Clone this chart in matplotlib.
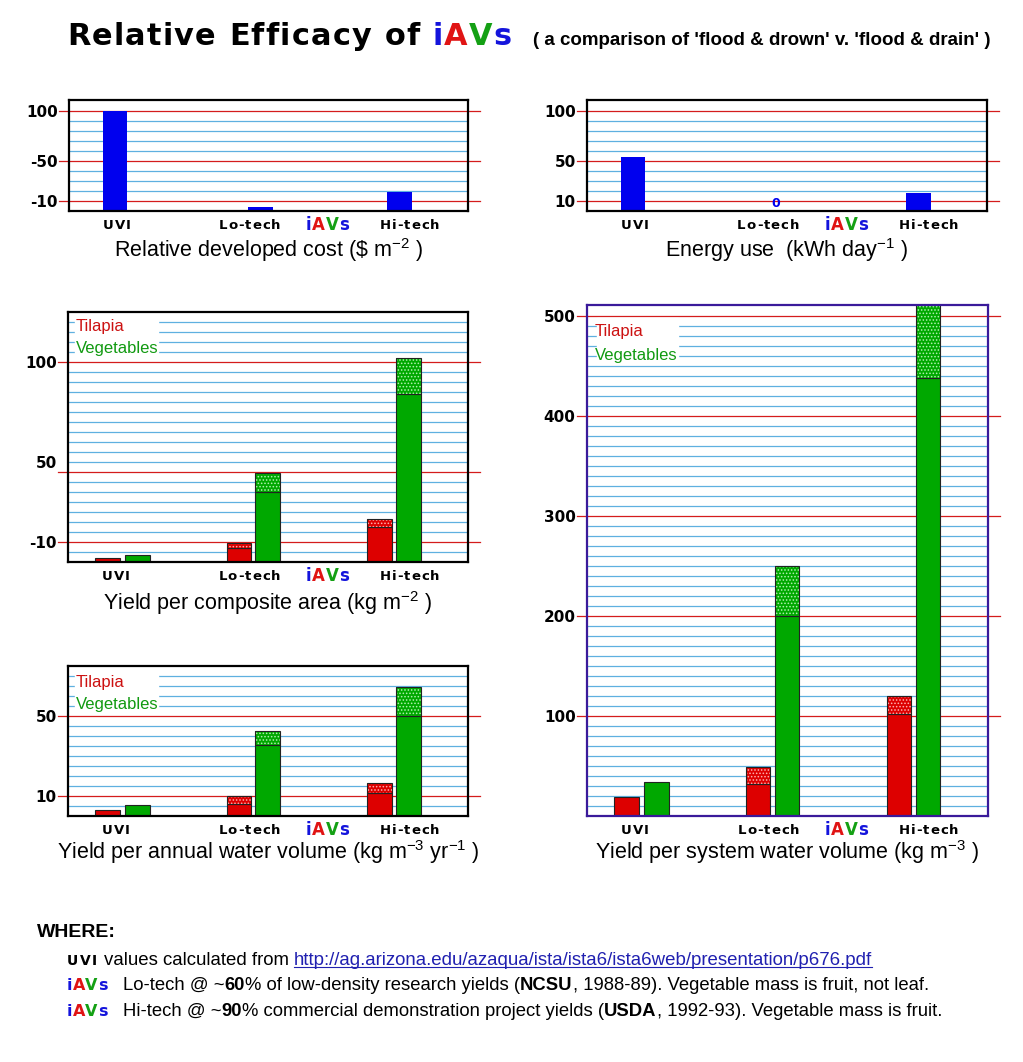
import numpy as np
import matplotlib
matplotlib.use('Agg')
import matplotlib.pyplot as plt
from matplotlib.font_manager import FontProperties
from matplotlib.lines import Line2D
from matplotlib.patches import Rectangle

plt.rcParams['mathtext.fontset'] = 'custom'
plt.rcParams['mathtext.rm'] = 'Liberation Sans'
plt.rcParams['mathtext.default'] = 'regular'
plt.rcParams['hatch.linewidth'] = 0.7

#%% Datos
grupos = ['UVI', 'Lo-tech', 'Hi-tech']
costo = [100, 4, 19]                 # $ m-2
energia = [54, 0, 18]                # kWh day-1

# base = 'flood & drown' (solido), tot = 'flood & drain' (punteado arriba)
area_til_base = [2, 7, 17.5]
area_til_tot = [2, 9.5, 21.5]
area_veg_base = [3.3, 35, 84]
area_veg_tot = [3.3, 44.5, 102]

anual_til_base = [3.2, 6.2, 11.7]
anual_til_tot = [3.2, 9.8, 16.7]
anual_veg_base = [5.3, 35.3, 50]
anual_veg_tot = [5.3, 42.3, 64.7]

sist_til_base = [18.7, 31.7, 102]
sist_til_tot = [18.7, 49.3, 120]
sist_veg_base = [33.7, 200, 438]
sist_veg_tot = [33.7, 250, 515]

#%% Estilo
W, H = 1023, 1062
AZ, RO, VE = '#1414dc', '#e01414', '#14a014'
BAR_R, BAR_V, BAR_A = '#dd0000', '#00a800', '#0000ee'
GRID_A, GRID_R = '#5fb0e0', '#d41c1c'

x_uno = [11.6, 48.0, 82.8]
x_til = [9.9, 42.7, 77.9]
x_veg = [17.4, 49.9, 85.1]
x_cat = [12.0, 45.3, 64.8, 85.3]
ancho_barra = 6.1

fig = plt.figure(figsize=(W / 100, H / 100), dpi=100)


def ancho(s, fp):
    r = fig.canvas.get_renderer()
    w1 = r.get_text_width_height_descent('|' + s + '|', fp, ismath=False)[0]
    w0 = r.get_text_width_height_descent('||', fp, ismath=False)[0]
    return w1 - w0


def fila(x, y, piezas, ha='left', fin=None):
    # piezas: (texto, color, size, weight, family, track, underline)
    def layout(esc):
        items = []
        for s, c, size, weight, fam, track, und in piezas:
            fp = FontProperties(family=fam, size=size * esc, weight=weight)
            trozos = list(s) if track else [s]
            for ch in trozos:
                items.append([ch, c, fp, ancho(ch, fp), track * esc, und])
        tot = sum(it[3] + it[4] for it in items) - items[-1][4]
        return items, tot
    items, tot = layout(1.0)
    if fin is not None:
        items, tot = layout((fin - x) / tot)
    x0 = x - tot / 2 if ha == 'center' else x
    und = []
    for ch, c, fp, w, tr, u in items:
        fig.text(x0 / W, 1 - y / H, ch, color=c, fontproperties=fp,
                 ha='left', va='baseline')
        if u:
            und.append((x0, x0 + w, c))
        x0 += w + tr
    if und:
        fig.add_artist(Line2D([und[0][0] / W, und[-1][1] / W],
                              [1 - (y + 2) / H] * 2, color=und[0][2], lw=0.8))


def iavs(size, track):
    return [('i', AZ, size, 'bold', 'DejaVu Sans', track, False),
            ('A', RO, size, 'bold', 'DejaVu Sans', track, False),
            ('V', VE, size, 'bold', 'DejaVu Sans', track, False),
            ('s', AZ, size, 'bold', 'DejaVu Sans', track, False)]


def panel(box, ytop, rojos, azules, ticks, labels, borde='black'):
    l, t, w, h = box
    ax = fig.add_axes([l / W, 1 - (t + h) / H, w / W, h / H])
    ax.set_xlim(0, 100)
    ax.set_ylim(0, ytop)
    ax.set_xticks([])
    ax.set_yticks(ticks)
    ax.set_yticklabels(labels, fontsize=11, fontweight='bold', family='DejaVu Sans')
    ax.tick_params(axis='y', length=0, pad=8)
    for s in ax.spines.values():
        s.set_color(borde)
        s.set_linewidth(1.6)
        s.set_zorder(6)
    for v in azules:
        ax.axhline(v, color=GRID_A, lw=0.9, zorder=1)
    for v in rojos:
        ax.plot([-0.025, 1.03], [v, v], transform=ax.get_yaxis_transform(),
                color=GRID_R, lw=0.9, clip_on=False, zorder=2)
    # etiquetas de categorias
    yb = t + h + 18
    for nom, fx in zip(['UVI', 'Lo-tech', None, 'Hi-tech'], x_cat):
        xc = l + w * fx / 100
        if nom is None:
            fila(xc, yb + 1, iavs(12, 0.8), ha='center')
        else:
            fila(xc, yb, [(nom, 'black', 9.5, 'bold', 'DejaVu Sans', 1.0, False)], ha='center')
    return ax


def titulo_eje(box, y, texto):
    l, t, w, h = box
    fig.text((l + w / 2) / W, 1 - y / H, texto, ha='center', va='baseline',
             fontsize=15.5, family='Liberation Sans')


def apiladas(ax, xs, base, tot, color, punto):
    for x, b, tt in zip(xs, base, tot):
        ax.bar(x, b, width=ancho_barra, color=color, edgecolor='#222222', lw=0.8, zorder=3)
        if tt > b:
            ax.bar(x, tt - b, bottom=b, width=ancho_barra, color=color,
                   edgecolor=punto, hatch='.....', lw=0, zorder=3)
            ax.bar(x, tt - b, bottom=b, width=ancho_barra, fill=False,
                   edgecolor='#222222', lw=0.8, zorder=4)


def leyenda(ax, box, rect, y1, y2):
    l, t, w, h = box
    ax.add_patch(Rectangle((rect[0], rect[1]), rect[2] - rect[0], rect[3] - rect[1],
                           transform=ax.transAxes, color='white', zorder=2.5))
    fig.text((l + 8) / W, 1 - y1 / H, 'Tilapia', color='#cc1111', fontsize=12,
             family='Liberation Sans', va='baseline')
    fig.text((l + 8) / W, 1 - y2 / H, 'Vegetables', color='#119a11', fontsize=12,
             family='Liberation Sans', va='baseline')


#%% Panel 1: costo
b1 = (69, 100, 399, 110.7)
ax1 = panel(b1, 110.7, [10, 50, 100], [20, 30, 40, 60, 70, 80, 90],
            [10, 50, 100], ['-10', '-50', '100'])
ax1.bar(x_uno, costo, width=ancho_barra, color=BAR_A, zorder=3)
titulo_eje(b1, 256.5, r'Relative developed cost (\$ m$^{-2}$ )')

#%% Panel 2: energia
b2 = (586.7, 100, 400.5, 110.7)
ax2 = panel(b2, 110.7, [10, 50, 100], [20, 30, 40, 60, 70, 80, 90],
            [10, 50, 100], ['10', '50', '100'])
ax2.bar(x_uno, energia, width=ancho_barra, color=BAR_A, zorder=3)
for x, v in zip(x_uno, energia):
    if v == 0:
        ax2.text(x - 0.7, 0.8, '0', color=BAR_A, fontsize=9, fontweight='bold',
                 ha='center', va='bottom', zorder=4)
titulo_eje(b2, 256.5, r'Energy use  (kWh day$^{-1}$ )')

#%% Panel 3: rendimiento por area
b3 = (68, 311.7, 400, 250)
az3 = [v for v in np.arange(5, 121, 5) if v not in (10, 45, 100)]
ax3 = panel(b3, 125, [10, 45, 100], az3, [10, 50, 100], ['-10', '50', '100'])
apiladas(ax3, x_til, area_til_base, area_til_tot, BAR_R, '#ffb0b0')
apiladas(ax3, x_veg, area_veg_base, area_veg_tot, BAR_V, '#b0f0b0')
leyenda(ax3, b3, (0.018, 0.822, 0.225, 0.978), 331, 352.5)
titulo_eje(b3, 610, r'Yield per composite area (kg m$^{-2}$ )')

#%% Panel 4: rendimiento por agua anual
b4 = (68, 666, 400, 150)
az4 = [v for v in np.arange(5, 71, 5) if v not in (10, 50)]
ax4 = panel(b4, 75, [10, 50], az4, [10, 50], ['10', '50'])
apiladas(ax4, x_til, anual_til_base, anual_til_tot, BAR_R, '#ffb0b0')
apiladas(ax4, x_veg, anual_veg_base, anual_veg_tot, BAR_V, '#b0f0b0')
leyenda(ax4, b4, (0.018, 0.70, 0.225, 0.975), 687, 709.5)
titulo_eje(b4, 859, r'Yield per annual water volume (kg m$^{-3}$ yr$^{-1}$ )')

#%% Panel 5: rendimiento por volumen del sistema
b5 = (586.7, 305, 401, 511)
az5 = [v for v in np.arange(10, 500, 10) if v % 100 != 0]
ax5 = panel(b5, 511, [100, 200, 300, 400, 500], az5, [100, 200, 300, 400, 500],
            ['100', '200', '300', '400', '500'], borde='#3a1a9a')
apiladas(ax5, x_til, sist_til_base, sist_til_tot, BAR_R, '#ffb0b0')
apiladas(ax5, x_veg, sist_veg_base, sist_veg_tot, BAR_V, '#b0f0b0')
leyenda(ax5, b5, (0.026, 0.884, 0.228, 0.975), 336.5, 360)
titulo_eje(b5, 859, r'Yield per system water volume (kg m$^{-3}$ )')

#%% Titulo
fila(67, 45, [('Relative Efficacy of ', 'black', 21, 'bold', 'DejaVu Sans', 1.2, False)]
     + iavs(21, 1.2), fin=513)
fila(533, 45, [("( a comparison of 'flood & drown' v. 'flood & drain' )", 'black', 12,
                'bold', 'Liberation Sans', 0, False)], fin=988)

#%% Notas
fig.text(37 / W, 1 - 937 / H, 'WHERE:', fontsize=14, fontweight='bold',
         family='Liberation Sans', va='baseline')
REG = ('black', 12.5, 'normal', 'Liberation Sans', 0, False)
BLD = ('black', 12.5, 'bold', 'Liberation Sans', 0, False)
fila(67, 965, [('UVI', 'black', 10, 'bold', 'DejaVu Sans', 1.2, False)])
fila(104, 965, [('values calculated from ',) + REG,
                ('http://ag.arizona.edu/azaqua/ista/ista6/ista6web/presentation/p676.pdf',
                 '#2020b0', 12.5, 'normal', 'Liberation Sans', 0, True)], fin=877)
fila(67, 990, iavs(11.5, 0.2))
fila(123, 990, [('Lo-tech @ ~',) + REG, ('60',) + BLD,
                ('% of low-density research yields (',) + REG, ('NCSU',) + BLD,
                (', 1988-89). Vegetable mass is fruit, not leaf.',) + REG], fin=933)
fila(67, 1016, iavs(11.5, 0.2))
fila(123, 1016, [('Hi-tech @ ~',) + REG, ('90',) + BLD,
                 ('% commercial demonstration project yields (',) + REG, ('USDA',) + BLD,
                 (', 1992-93). Vegetable mass is fruit.',) + REG], fin=943)

fig.savefig('out.png', dpi=100, facecolor='white')
